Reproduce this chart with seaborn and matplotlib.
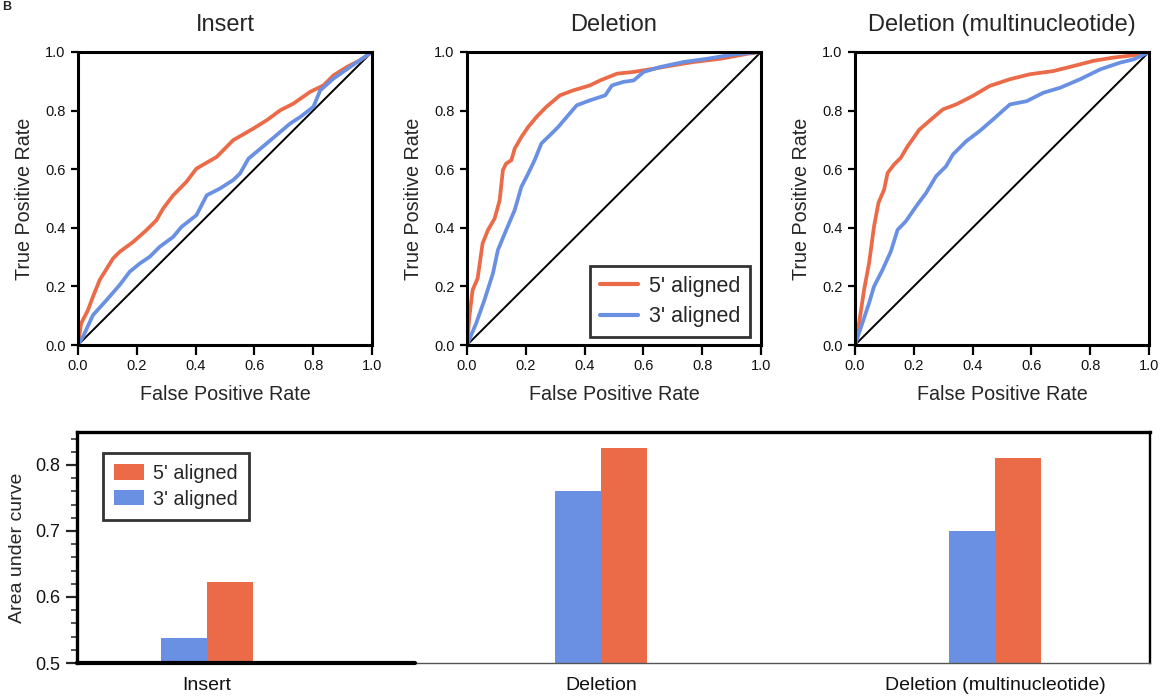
import pandas as pd
import matplotlib
matplotlib.use("Agg")
import matplotlib.pyplot as plt
from matplotlib.ticker import MultipleLocator
import seaborn as sns

# ROC points (fpr, tpr) per variant type and alignment
ins_5_fpr = [0, 0.011, 0.034, 0.051, 0.074, 0.119, 0.142, 0.188, 0.233, 0.267, 0.290, 0.324, 0.369, 0.403,
             0.472, 0.528, 0.597, 0.642, 0.688, 0.733, 0.790, 0.835, 0.869, 0.915, 0.960, 1.0]
ins_5_tpr = [0, 0.074, 0.119, 0.165, 0.222, 0.295, 0.318, 0.352, 0.392, 0.426, 0.466, 0.511, 0.557, 0.602,
             0.642, 0.699, 0.739, 0.767, 0.801, 0.824, 0.864, 0.886, 0.920, 0.949, 0.972, 1.0]
ins_3_fpr = [0, 0.017, 0.051, 0.097, 0.142, 0.176, 0.210, 0.244, 0.278, 0.324, 0.352, 0.403, 0.438, 0.483,
             0.528, 0.551, 0.580, 0.642, 0.688, 0.722, 0.756, 0.801, 0.824, 0.869, 0.926, 1.0]
ins_3_tpr = [0, 0.028, 0.102, 0.153, 0.205, 0.250, 0.278, 0.301, 0.335, 0.369, 0.403, 0.443, 0.511, 0.534,
             0.563, 0.585, 0.636, 0.688, 0.727, 0.756, 0.778, 0.813, 0.869, 0.909, 0.949, 1.0]

del_5_fpr = [0, 0.008, 0.019, 0.036, 0.053, 0.071, 0.094, 0.111, 0.122, 0.133, 0.151, 0.162, 0.185, 0.208,
             0.236, 0.270, 0.316, 0.361, 0.418, 0.453, 0.510, 0.567, 0.635, 0.704, 0.772, 0.863, 0.954, 1.0]
del_5_tpr = [0, 0.097, 0.188, 0.227, 0.347, 0.392, 0.432, 0.494, 0.597, 0.619, 0.631, 0.670, 0.710, 0.744,
             0.778, 0.813, 0.852, 0.869, 0.886, 0.903, 0.926, 0.932, 0.943, 0.955, 0.966, 0.977, 0.994, 1.0]
del_3_fpr = [0, 0.031, 0.059, 0.088, 0.105, 0.133, 0.162, 0.185, 0.208, 0.230, 0.253, 0.282, 0.310, 0.344,
             0.373, 0.418, 0.470, 0.493, 0.532, 0.567, 0.601, 0.658, 0.738, 0.818, 0.909, 1.0]
del_3_tpr = [0, 0.074, 0.153, 0.244, 0.324, 0.392, 0.460, 0.540, 0.585, 0.631, 0.688, 0.716, 0.744, 0.784,
             0.818, 0.835, 0.852, 0.886, 0.898, 0.903, 0.932, 0.949, 0.966, 0.977, 0.992, 1.0]

mnt_5_fpr = [0, 0.014, 0.031, 0.048, 0.065, 0.080, 0.099, 0.111, 0.133, 0.156, 0.179, 0.219, 0.265, 0.299,
             0.344, 0.401, 0.458, 0.527, 0.595, 0.675, 0.743, 0.812, 0.880, 0.949, 1.0]
mnt_5_tpr = [0, 0.074, 0.188, 0.279, 0.405, 0.485, 0.530, 0.587, 0.616, 0.639, 0.678, 0.735, 0.775, 0.804,
             0.821, 0.850, 0.884, 0.907, 0.924, 0.935, 0.952, 0.970, 0.981, 0.989, 1.0]
mnt_3_fpr = [0, 0.025, 0.048, 0.065, 0.094, 0.122, 0.145, 0.173, 0.208, 0.242, 0.276, 0.310, 0.333, 0.379,
             0.424, 0.470, 0.527, 0.584, 0.641, 0.698, 0.766, 0.835, 0.903, 0.949, 1.0]
mnt_3_tpr = [0, 0.074, 0.143, 0.200, 0.257, 0.319, 0.393, 0.422, 0.473, 0.519, 0.576, 0.610, 0.650, 0.696,
             0.730, 0.770, 0.821, 0.832, 0.861, 0.878, 0.907, 0.941, 0.964, 0.975, 1.0]

# AUC bars
categories = ["Insert", "Deletion", "Deletion (multinucleotide)"]
auc_3 = [0.538, 0.760, 0.700]
auc_5 = [0.622, 0.826, 0.811]

c5 = "#EB6A48"
c3 = "#6990E2"
pal = {"5' aligned": c5, "3' aligned": c3}
tick_lbls = ["0.0", "0.2", "0.4", "0.6", "0.8", "1.0"]

sns.set_style("ticks")
plt.rcParams["font.family"] = ["Liberation Sans", "DejaVu Sans"]

fig = plt.figure(figsize=(11.67, 6.96), dpi=100)

roc_sets = [
    ("Insert", ins_5_fpr, ins_5_tpr, ins_3_fpr, ins_3_tpr),
    ("Deletion", del_5_fpr, del_5_tpr, del_3_fpr, del_3_tpr),
    ("Deletion (multinucleotide)", mnt_5_fpr, mnt_5_tpr, mnt_3_fpr, mnt_3_tpr),
]
lefts = [0.0668, 0.4002, 0.7326]

for i, (title, f5, t5, f3, t3) in enumerate(roc_sets):
    ax = fig.add_axes([lefts[i], 0.5043, 0.2519, 0.421])
    df = pd.concat([
        pd.DataFrame({"fpr": f5, "tpr": t5, "Alignment": "5' aligned"}),
        pd.DataFrame({"fpr": f3, "tpr": t3, "Alignment": "3' aligned"}),
    ])
    ax.plot([0, 1], [0, 1], color="black", lw=1.4, zorder=1)
    sns.lineplot(data=df, x="fpr", y="tpr", hue="Alignment", sort=False, estimator=None,
                 palette=pal, lw=2.7, ax=ax, legend=(i == 1))
    ax.set_xlim(0, 1)
    ax.set_ylim(0, 1)
    ax.set_xticks([0, 0.2, 0.4, 0.6, 0.8, 1.0])
    ax.set_yticks([0, 0.2, 0.4, 0.6, 0.8, 1.0])
    ax.set_xticklabels(tick_lbls)
    ax.set_yticklabels(tick_lbls)
    ax.tick_params(direction="out", width=1.6, labelsize=10.5, color="black", labelcolor="#111111")
    ax.tick_params(axis="x", length=7, pad=3)
    ax.tick_params(axis="y", length=5, pad=4)
    for s in ax.spines.values():
        s.set_visible(True)
        s.set_linewidth(2.2)
        s.set_color("black")
    ax.set_xlabel("False Positive Rate", fontsize=14.2, labelpad=9)
    ax.set_ylabel("True Positive Rate", fontsize=14.2, labelpad=8)
    ax.set_title(title, fontsize=17, pad=15)
    if i == 1:
        leg = ax.legend(loc="lower right", fontsize=15.5, frameon=True, fancybox=False,
                        edgecolor="black", handlelength=1.8, handletextpad=0.5,
                        borderpad=0.45, borderaxespad=0, labelspacing=0.45,
                        bbox_to_anchor=(0.963, 0.027))
        leg.get_frame().set_linewidth(2.0)
        for ln in leg.get_lines():
            ln.set_linewidth(3)

# bar chart of AUC
axb = fig.add_axes([0.066, 0.0474, 0.9195, 0.332])
bars = pd.DataFrame({
    "category": categories * 2,
    "auc": auc_3 + auc_5,
    "Alignment": ["3' aligned"] * 3 + ["5' aligned"] * 3,
})
sns.barplot(data=bars, x="category", y="auc", hue="Alignment",
            hue_order=["3' aligned", "5' aligned"], palette=pal,
            width=0.233, gap=0, saturation=1, linewidth=0, ax=axb)
axb.set_xlim(-0.33, 2.393)
axb.set_ylim(0.5, 0.85)
axb.set_yticks([0.5, 0.6, 0.7, 0.8])
axb.yaxis.set_minor_locator(MultipleLocator(0.02))
axb.tick_params(axis="y", which="major", direction="out", length=8, width=1.6,
                labelsize=13, pad=4, labelcolor="#111111")
axb.tick_params(axis="y", which="minor", direction="out", length=4.5, width=1.1)
axb.tick_params(axis="x", length=0, labelsize=14, pad=10, labelcolor="#111111")
axb.set_xlabel("")
axb.set_ylabel("Area under curve", fontsize=14, labelpad=7)
for name, s in axb.spines.items():
    s.set_visible(True)
    s.set_color("black")
    s.set_linewidth(2.4)
axb.spines["right"].set_linewidth(1.7)
axb.spines["bottom"].set_linewidth(1.0)
axb.spines["bottom"].set_color("#555555")
axb.axhline(0.5, xmin=0, xmax=0.315, color="black", lw=3, clip_on=False, zorder=5)

h, l = axb.get_legend_handles_labels()
leg = axb.legend([h[1], h[0]], [l[1], l[0]], loc="upper left", bbox_to_anchor=(0.0242, 0.909),
                 borderaxespad=0, fontsize=14.2, frameon=True, fancybox=False, edgecolor="black",
                 handlelength=1.55, handleheight=0.8, handletextpad=0.45, labelspacing=0.35,
                 borderpad=0.55)
leg.get_frame().set_linewidth(2.0)

fig.text(0.002, 0.999, "B", fontsize=9, fontweight="bold", va="top", ha="left")

fig.savefig("out.png", dpi=100)
